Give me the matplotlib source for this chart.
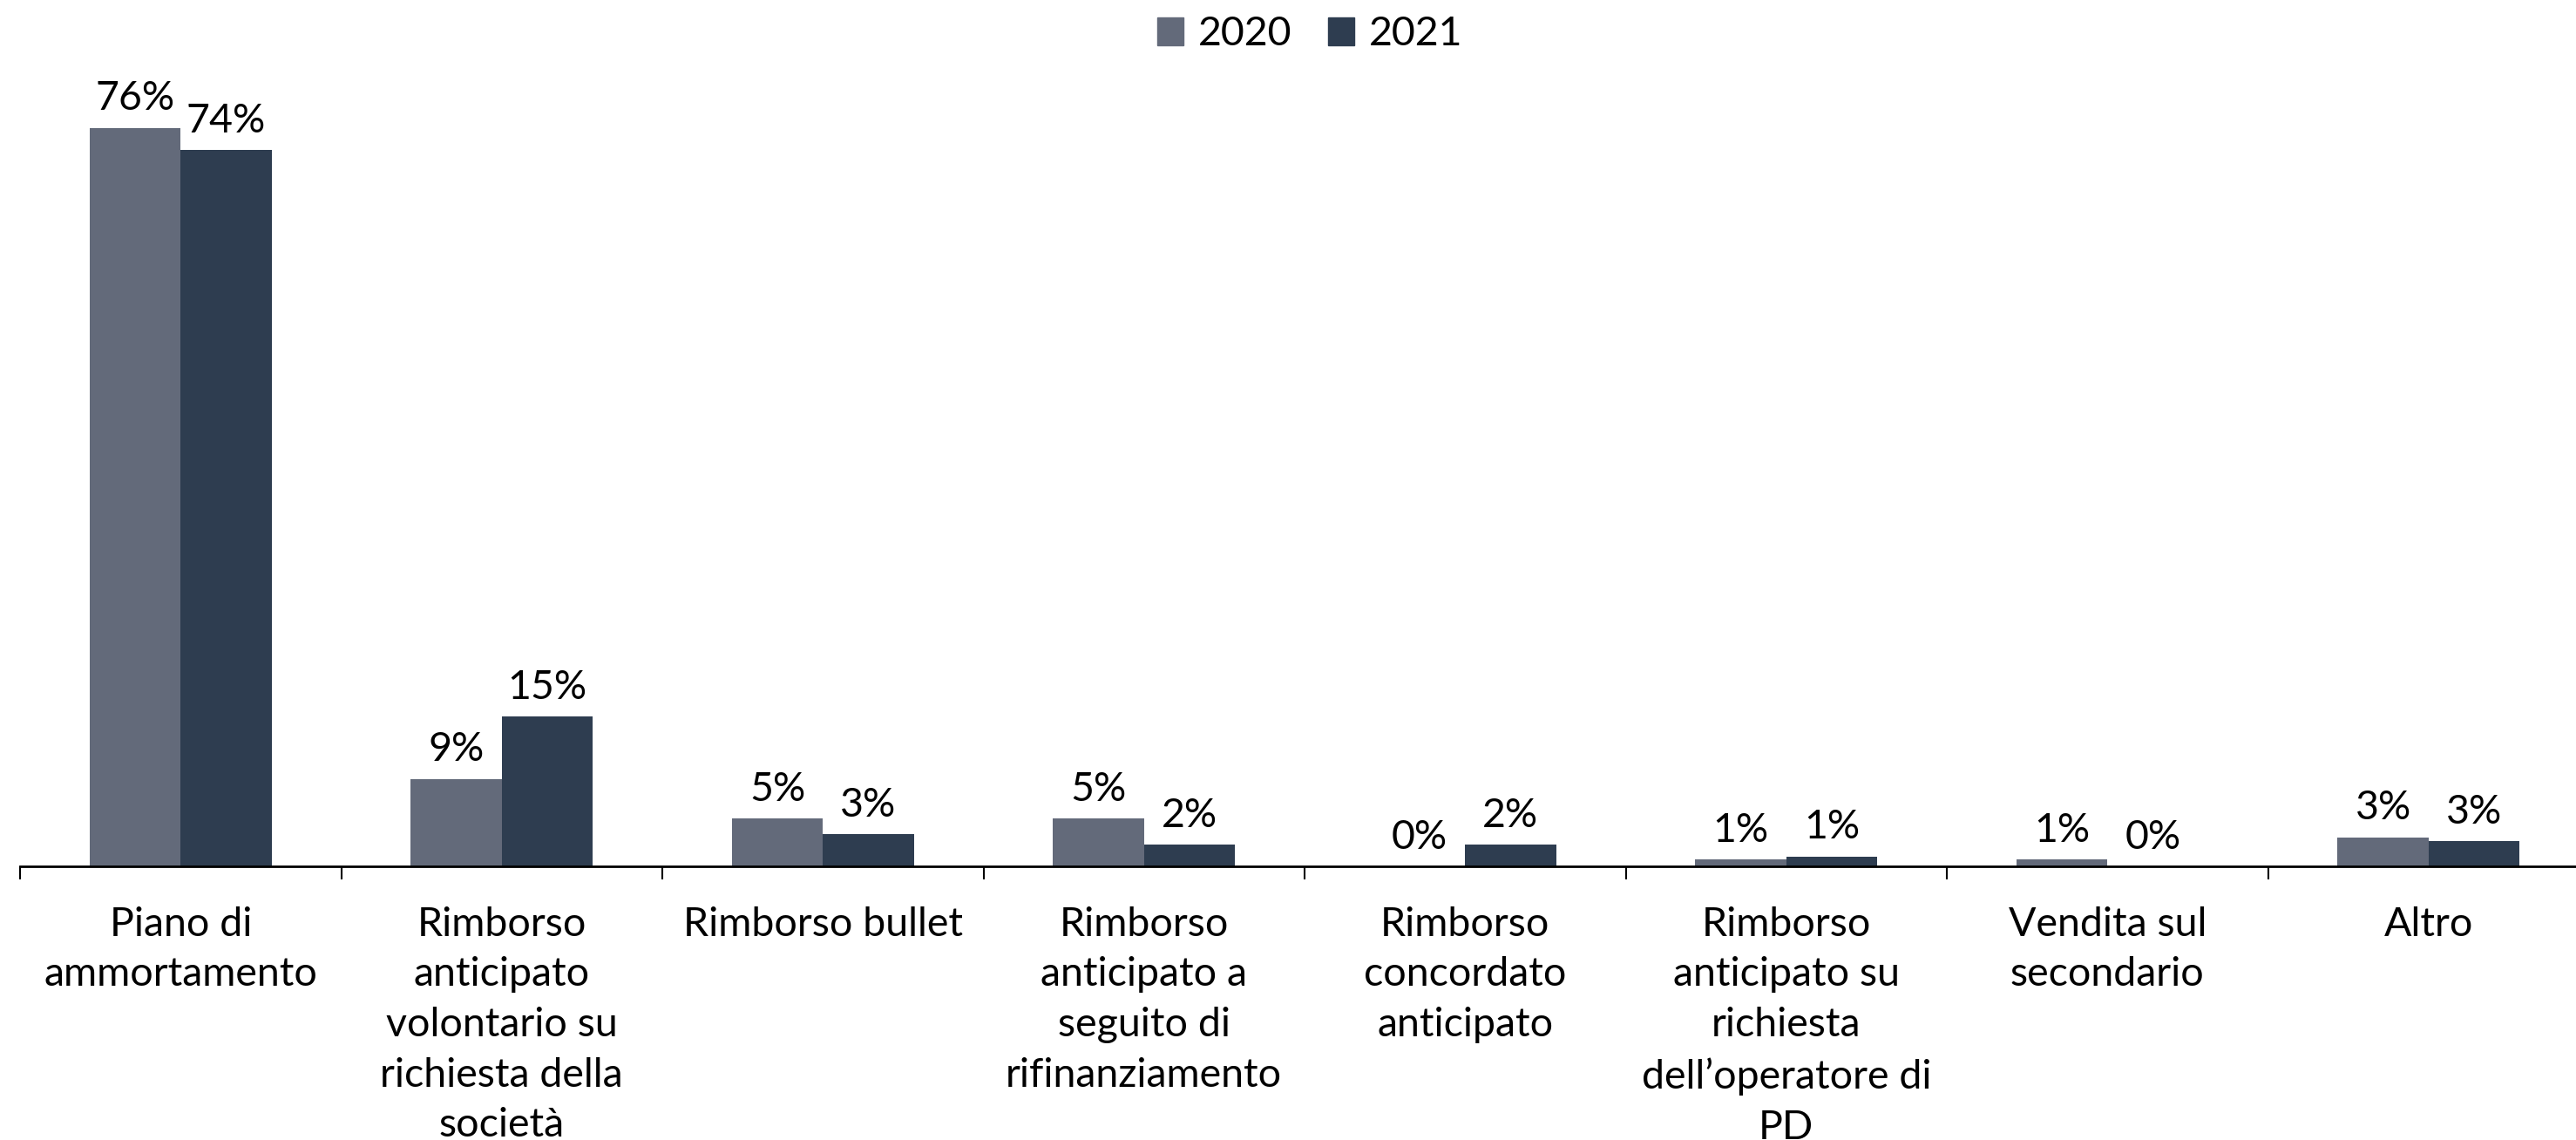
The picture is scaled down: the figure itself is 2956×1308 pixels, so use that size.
import numpy as np
import matplotlib
matplotlib.use("Agg")
import matplotlib.pyplot as plt
from matplotlib.patches import Patch

categories = [
    "Piano di\nammortamento",
    "Rimborso\nanticipato\nvolontario su\nrichiesta della\nsocietà",
    "Rimborso bullet",
    "Rimborso\nanticipato a\nseguito di\nrifinanziamento",
    "Rimborso\nconcordato\nanticipato",
    "Rimborso\nanticipato su\nrichiesta\ndell’operatore di\nPD",
    "Vendita sul\nsecondario",
    "Altro",
]
years = ["2020", "2021"]
values_2020 = [76.0, 9.0, 4.9, 4.9, 0.0, 0.7, 0.7, 3.0]
values_2021 = [73.7, 15.4, 3.3, 2.2, 2.2, 1.0, 0.0, 2.6]
colors = ["#636a7a", "#2e3d50"]

plt.rcParams["font.family"] = ["Lato", "DejaVu Sans"]
FS = 33.5

W, H = 2956, 1308
fig = plt.figure(figsize=(W / 100, H / 100), dpi=100)
# axis spans past the right edge like the original
left_px, right_px, axis_y, top_px = 23, 2971, 994, 102
ax = fig.add_axes([left_px / W, (H - axis_y) / H,
                   (right_px - left_px) / W, (axis_y - top_px) / H])

x = np.arange(len(categories))
bw = 0.283
b1 = ax.bar(x - bw / 2, values_2020, bw, color=colors[0], label=years[0])
b2 = ax.bar(x + bw / 2, values_2021, bw, color=colors[1], label=years[1])
for bars, vals in ((b1, values_2020), (b2, values_2021)):
    ax.bar_label(bars, labels=[f"{round(v)}%" for v in vals],
                 padding=9, fontsize=FS)

ax.set_xlim(-0.5, len(categories) - 0.5)
ax.set_ylim(0, 80)
ax.set_yticks([])
for s in ("top", "right", "left"):
    ax.spines[s].set_visible(False)
ax.spines["bottom"].set_linewidth(2)

ax.set_xticks(x)
ax.set_xticklabels(categories, fontsize=FS, linespacing=1.46)
ax.tick_params(axis="x", which="major", length=0, pad=33)
ax.set_xticks(np.arange(len(categories) + 1) - 0.5, minor=True)
ax.tick_params(axis="x", which="minor", length=11, width=1.5)

handles = [Patch(color=c) for c in colors]
fig.legend(handles, years, loc="upper center", bbox_to_anchor=(0.5085, 1.018),
           ncol=2, frameon=False, fontsize=FS, handlelength=0.65,
           handleheight=0.65, handletextpad=0.35, columnspacing=0.9)

fig.savefig("out.png", dpi=100)
